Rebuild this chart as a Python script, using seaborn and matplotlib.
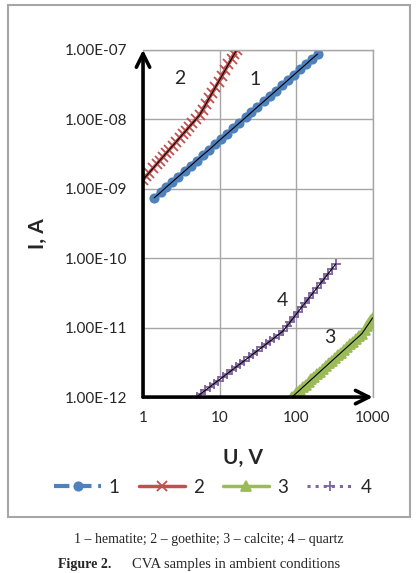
import numpy as np
import pandas as pd
import seaborn as sns
import matplotlib.pyplot as plt
from matplotlib.patches import Rectangle

# 1 - hematite
u1 = [1.4, 1.7, 2.0, 2.4, 2.9, 3.5, 4.2, 5.0, 6.0, 7.2, 8.7, 10.4, 12.5, 15, 18, 22,
      26, 31, 38, 45, 54, 65, 78, 94, 113, 135, 160, 190]
i1 = [7.4e-10, 8.9e-10, 1.05e-9, 1.25e-9, 1.5e-9, 1.8e-9, 2.15e-9, 2.55e-9, 3.05e-9,
      3.6e-9, 4.35e-9, 5.2e-9, 6.2e-9, 7.4e-9, 8.8e-9, 1.07e-8, 1.26e-8, 1.5e-8,
      1.82e-8, 2.15e-8, 2.56e-8, 3.07e-8, 3.66e-8, 4.4e-8, 5.26e-8, 6.25e-8, 7.4e-8, 8.7e-8]
# 2 - goethite
u2 = [1.0, 1.1, 1.2, 1.35, 1.5, 1.65, 1.8, 2.0, 2.2, 2.45, 2.7, 3.0, 3.3, 3.6, 4.0, 4.4,
      4.9, 5.5, 6.0, 6.6, 7.3, 8.0, 8.8, 9.7, 10.7, 11.8, 13, 14.3, 15.6, 16.8]
i2 = [1.35e-9, 1.52e-9, 1.7e-9, 1.97e-9, 2.25e-9, 2.54e-9, 2.83e-9, 3.23e-9, 3.65e-9,
      4.17e-9, 4.72e-9, 5.39e-9, 6.08e-9, 6.78e-9, 7.75e-9, 8.73e-9, 1.0e-8, 1.16e-8,
      1.37e-8, 1.65e-8, 2.01e-8, 2.4e-8, 2.89e-8, 3.49e-8, 4.22e-8, 5.1e-8, 6.16e-8,
      7.4e-8, 8.8e-8, 1.0e-7]
# 3 - calcite
u3 = [88, 95, 103, 112, 122, 133, 145, 158, 172, 188, 205, 224, 245, 268, 293, 320, 350,
      383, 420, 460, 505, 555, 610, 670, 720, 780, 840, 900, 950, 1000]
i3 = [1.0e-12, 1.08e-12, 1.17e-12, 1.27e-12, 1.39e-12, 1.51e-12, 1.65e-12, 1.8e-12,
      1.95e-12, 2.14e-12, 2.33e-12, 2.55e-12, 2.78e-12, 3.05e-12, 3.33e-12, 3.64e-12,
      3.98e-12, 4.35e-12, 4.77e-12, 5.23e-12, 5.74e-12, 6.31e-12, 6.93e-12, 7.61e-12,
      8.2e-12, 9.3e-12, 1.05e-11, 1.17e-11, 1.28e-11, 1.39e-11]
# 4 - quartz
u4 = [5.0, 5.7, 6.5, 7.4, 8.4, 9.6, 11, 12.5, 14.3, 16.3, 18.6, 21, 24, 27.5, 31, 35.5,
      40.5, 46, 52, 59, 67, 75, 84, 94, 105, 118, 132, 148, 166, 186, 208, 233, 260, 295, 330]
i4 = [1.0e-12, 1.12e-12, 1.25e-12, 1.39e-12, 1.55e-12, 1.73e-12, 1.94e-12, 2.16e-12,
      2.42e-12, 2.7e-12, 3.01e-12, 3.34e-12, 3.73e-12, 4.19e-12, 4.63e-12, 5.19e-12,
      5.8e-12, 6.45e-12, 7.15e-12, 7.95e-12, 8.9e-12, 1.04e-11, 1.22e-11, 1.43e-11,
      1.67e-11, 1.97e-11, 2.3e-11, 2.7e-11, 3.17e-11, 3.72e-11, 4.35e-11, 5.1e-11,
      5.94e-11, 7.09e-11, 8.3e-11]

x_ticks = [1, 10, 100, 1000]
y_ticks = [1e-12, 1e-11, 1e-10, 1e-9, 1e-8, 1e-7]
y_labels = ['1.00E-12', '1.00E-11', '1.00E-10', '1.00E-09', '1.00E-08', '1.00E-07']

sns.set_style('white')
plt.rcParams['font.family'] = ['Lato', 'DejaVu Sans']

fig = plt.figure(figsize=(4.17, 5.73), dpi=100)
ax = fig.add_axes([0.343, 0.307, 0.551, 0.606])

series = [
    (u1, i1, '1', '#4F81BD', 'o', '--', 6, 3.0),
    (u2, i2, '2', '#C0504D', 'x', '-', 7.5, 2.5),
    (u3, i3, '3', '#9BBB59', '^', '-', 7.5, 2.5),
    (u4, i4, '4', '#8064A2', '+', ':', 6.5, 2.2),
]
handles = []
for u, i, lab, col, mk, ls, ms, lw in series:
    df = pd.DataFrame({'U': u, 'I': i})
    sns.lineplot(data=df, x='U', y='I', ax=ax, color=col, marker=mk, linestyle=ls,
                 markersize=ms, markeredgecolor=col, markeredgewidth=1.3, lw=lw,
                 label=lab, legend=False)
    handles.append(ax.lines[-1])
    sns.lineplot(data=df, x='U', y='I', ax=ax, color='black', lw=0.8, legend=False)

ax.set_xscale('log')
ax.set_yscale('log')
ax.set_xlim(1, 1000)
ax.set_ylim(1e-12, 1e-7)
ax.set_xticks(x_ticks)
ax.set_xticklabels([str(t) for t in x_ticks])
ax.set_yticks(y_ticks)
ax.set_yticklabels(y_labels)
ax.minorticks_off()
ax.tick_params(length=0, labelsize=11)
ax.tick_params(axis='y', pad=11)
ax.tick_params(axis='x', pad=10)
ax.grid(True, color='#a6a6a6', lw=1)
ax.set_xlabel('')
ax.set_ylabel('')
for s in ['top', 'right']:
    ax.spines[s].set_color('#a6a6a6')
    ax.spines[s].set_linewidth(1)
for s in ['left', 'bottom']:
    ax.spines[s].set_visible(False)

arrow = dict(arrowstyle='->', lw=2.6, color='black', mutation_scale=24,
             shrinkA=0, shrinkB=0)
ax.annotate('', xy=(0, 1), xytext=(0, 0), xycoords='axes fraction', arrowprops=arrow,
            annotation_clip=False)
ax.annotate('', xy=(1, 0), xytext=(0, 0), xycoords='axes fraction', arrowprops=arrow,
            annotation_clip=False)

ax.text(3.0, 3.9e-8, '2', fontsize=14, ha='center', va='center')
ax.text(29, 3.7e-8, '1', fontsize=14, ha='center', va='center')
ax.text(67, 2.5e-11, '4', fontsize=14, ha='center', va='center')
ax.text(274, 7.1e-12, '3', fontsize=14, ha='center', va='center')

fig.text(0.091, 0.593, 'I, A', rotation=90, fontsize=15, fontweight='bold',
         ha='center', va='center')
fig.text(0.583, 0.200, 'U, V', fontsize=15, fontweight='bold', ha='center', va='center')

fig.legend(handles=handles, labels=['1', '2', '3', '4'], loc='center',
           bbox_to_anchor=(0.511, 0.150), ncol=4, frameon=False, fontsize=13.5,
           handlelength=2.5, columnspacing=1.0, handletextpad=0.4)

fig.patches.append(Rectangle((0.019, 0.0977), 0.964, 0.8935, transform=fig.transFigure,
                             fill=False, edgecolor='#a6a6a6', lw=1.5))

fig.text(0.5, 0.058, '1 – hematite; 2 – goethite; 3 – calcite; 4 – quartz',
         fontsize=10, family='Liberation Serif', ha='center', va='center')
fig.text(0.139, 0.014, 'Figure 2.', fontsize=10, family='Liberation Serif',
         fontweight='bold', ha='left', va='center')
fig.text(0.317, 0.014, 'CVA samples in ambient conditions', fontsize=10.5,
         family='Liberation Serif', ha='left', va='center')

fig.savefig('out.png', dpi=100)
